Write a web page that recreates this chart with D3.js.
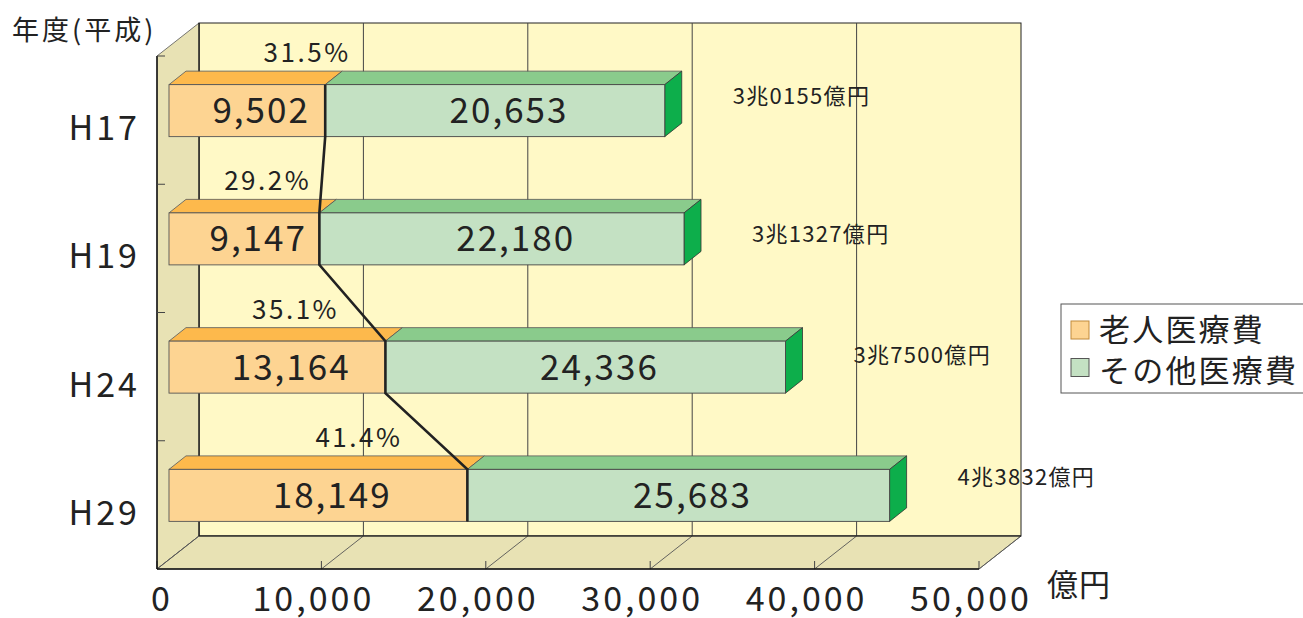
<!DOCTYPE html>
<html>
<head>
<meta charset="utf-8">
<script src="https://cdn.jsdelivr.net/npm/d3@7"></script>
<style>
  body { margin: 0; background: #fff; }
  svg { display: block; font-family: "Noto Sans CJK JP", "Noto Sans", sans-serif; }
</style>
</head>
<body>
<svg id="chart"></svg>
<script>
const categories = ['H17', 'H19', 'H24', 'H29'];
const elderlyCost = [9502, 9147, 13164, 18149];
const otherCost = [20653, 22180, 24336, 25683];
const xTicks = [0, 10000, 20000, 30000, 40000, 50000];
const seriesNames = ['老人医療費', 'その他医療費'];

// layout only: where the share labels sit (along x, in 億円) and nudge of total labels
const shareLabelAt = [8400, 6000, 7700, 11550];
const totalLabelDy = [-15, -5, -12, -18];

const width = 1303, height = 618;
const wall = {dx: 42, dy: -33};      // depth of the box
const front = {dx: 12, dy: -9.5};    // bar front face inside the box
const barDepth = {dx: 17, dy: -13.5};
const barH = 52;

const colors = {
  orangeFront: '#FDD492', orangeTop: '#FDB94C',
  greenFront: '#C4E1C3', greenTop: '#8ACB8C', greenEnd: '#0DAE4B',
  backWall: '#FFF9C6', sideWall: '#E8E2B4'
};

const svg = d3.select('#chart').attr('width', width).attr('height', height);

const x = d3.scaleLinear().domain([0, 50000]).range([157, 979]);
const y = d3.scaleBand().domain(categories).range([56, 569]);

const xl = x(0), xr = x(50000), yt = y.range()[0], yb = y.range()[1];

// back wall
svg.append('rect')
  .attr('x', xl + wall.dx).attr('y', yt + wall.dy)
  .attr('width', xr - xl).attr('height', yb - yt)
  .attr('fill', colors.backWall).attr('stroke', '#222').attr('stroke-width', 1);

// left wall + floor
svg.append('polygon')
  .attr('points', [[xl, yt], [xl + wall.dx, yt + wall.dy], [xl + wall.dx, yb + wall.dy], [xl, yb]].join(' '))
  .attr('fill', colors.sideWall).attr('stroke', '#555').attr('stroke-width', 0.8);
svg.append('polygon')
  .attr('points', [[xl, yb], [xl + wall.dx, yb + wall.dy], [xr + wall.dx, yb + wall.dy], [xr, yb]].join(' '))
  .attr('fill', colors.sideWall).attr('stroke', '#555').attr('stroke-width', 0.8);

// grid on back wall and floor
svg.selectAll('.grid')
  .data(xTicks.filter(d => d > 0 && d < 50000))
  .enter().append('line')
  .attr('x1', d => x(d) + wall.dx).attr('x2', d => x(d) + wall.dx)
  .attr('y1', yt + wall.dy).attr('y2', yb + wall.dy)
  .attr('stroke', '#444').attr('stroke-width', 1);

svg.selectAll('.floorline')
  .data(xTicks)
  .enter().append('line')
  .attr('x1', d => x(d)).attr('y1', yb)
  .attr('x2', d => x(d) + wall.dx).attr('y2', yb + wall.dy)
  .attr('stroke', '#555').attr('stroke-width', 0.9);

svg.selectAll('.xtick')
  .data(xTicks)
  .enter().append('line')
  .attr('x1', d => x(d)).attr('x2', d => x(d))
  .attr('y1', yb).attr('y2', yb - 8)
  .attr('stroke', '#444').attr('stroke-width', 1);

// box edges
svg.append('line').attr('x1', xl + wall.dx).attr('x2', xr + wall.dx)
  .attr('y1', yb + wall.dy).attr('y2', yb + wall.dy).attr('stroke', '#111').attr('stroke-width', 1.2);
svg.append('line').attr('x1', xl + wall.dx).attr('x2', xl + wall.dx)
  .attr('y1', yt + wall.dy).attr('y2', yb + wall.dy).attr('stroke', '#111').attr('stroke-width', 1.2);
svg.append('line').attr('x1', xl).attr('x2', xl)
  .attr('y1', yt).attr('y2', yb).attr('stroke', '#111').attr('stroke-width', 1.5);
svg.append('line').attr('x1', xl).attr('x2', xr)
  .attr('y1', yb).attr('y2', yb).attr('stroke', '#111').attr('stroke-width', 1.5);

// category ticks on left edge
svg.selectAll('.ytick')
  .data(categories)
  .enter().append('line')
  .attr('x1', xl).attr('x2', xl + 8)
  .attr('y1', d => y(d)).attr('y2', d => y(d))
  .attr('stroke', '#444').attr('stroke-width', 1);

// bars
const rows = categories.map((c, i) => {
  const cy = y(c) + y.bandwidth() / 2 + front.dy;
  return {
    cat: c, i: i, e: elderlyCost[i], o: otherCost[i],
    total: elderlyCost[i] + otherCost[i],
    top: cy - barH / 2, bot: cy + barH / 2, cy: cy,
    x0: x(0) + front.dx,
    x1: x(elderlyCost[i]) + front.dx,
    x2: x(elderlyCost[i] + otherCost[i]) + front.dx
  };
});

const faceTop = (a, b, t) => [[a, t], [a + barDepth.dx, t + barDepth.dy], [b + barDepth.dx, t + barDepth.dy], [b, t]].join(' ');

const bars = svg.selectAll('.bar').data(rows).enter().append('g');

bars.append('polygon')
  .attr('points', d => faceTop(d.x0, d.x1, d.top))
  .attr('fill', colors.orangeTop).attr('stroke', '#555').attr('stroke-width', 0.8);
bars.append('polygon')
  .attr('points', d => faceTop(d.x1, d.x2, d.top))
  .attr('fill', colors.greenTop).attr('stroke', '#555').attr('stroke-width', 0.8);
bars.append('polygon')
  .attr('points', d => [[d.x2, d.top], [d.x2 + barDepth.dx, d.top + barDepth.dy],
    [d.x2 + barDepth.dx, d.bot + barDepth.dy], [d.x2, d.bot]].join(' '))
  .attr('fill', colors.greenEnd).attr('stroke', '#333').attr('stroke-width', 0.8);
bars.append('rect')
  .attr('x', d => d.x0).attr('y', d => d.top)
  .attr('width', d => d.x1 - d.x0).attr('height', barH)
  .attr('fill', colors.orangeFront).attr('stroke', '#555').attr('stroke-width', 0.9);
bars.append('rect')
  .attr('x', d => d.x1).attr('y', d => d.top)
  .attr('width', d => d.x2 - d.x1).attr('height', barH)
  .attr('fill', colors.greenFront).attr('stroke', '#444').attr('stroke-width', 0.9);

// connecting line along the elderly share
const pts = [];
rows.forEach(d => { pts.push([d.x1, d.top]); pts.push([d.x1, d.bot]); });
svg.append('path')
  .attr('d', d3.line()(pts))
  .attr('fill', 'none').attr('stroke', '#222').attr('stroke-width', 2.6);

// value labels inside bars
const fmt = d3.format(',');
bars.append('text')
  .attr('x', d => (d.x0 + d.x1) / 2 + 14).attr('y', d => d.cy + 12.5)
  .attr('text-anchor', 'middle').attr('font-size', 35).attr('letter-spacing', 2)
  .attr('fill', '#222').text(d => fmt(d.e));
bars.append('text')
  .attr('x', d => (d.x1 + d.x2) / 2 + 14).attr('y', d => d.cy + 12.5)
  .attr('text-anchor', 'middle').attr('font-size', 35).attr('letter-spacing', 2)
  .attr('fill', '#222').text(d => fmt(d.o));

// share labels
bars.append('text')
  .attr('x', d => x(shareLabelAt[d.i]) + front.dx).attr('y', d => d.top - 32 + 9.5)
  .attr('text-anchor', 'middle').attr('font-size', 26).attr('letter-spacing', 2.5)
  .attr('fill', '#222').text(d => (d.e / d.total * 100).toFixed(1) + '%');

// total labels
bars.append('text')
  .attr('x', d => d.x2 + 68).attr('y', d => d.cy + totalLabelDy[d.i] + 8)
  .attr('font-size', 22).attr('letter-spacing', 1.3)
  .attr('fill', '#222')
  .text(d => Math.floor(d.total / 10000) + '兆' + String(d.total % 10000).padStart(4, '0') + '億円');

// category labels
svg.selectAll('.cat').data(categories).enter().append('text')
  .attr('x', 140).attr('y', d => y(d) + y.bandwidth() / 2 + 7.5 + 12.5)
  .attr('text-anchor', 'end').attr('font-size', 34).attr('letter-spacing', 3)
  .attr('fill', '#222').text(d => d);

// x tick labels
svg.selectAll('.xlabel').data(xTicks).enter().append('text')
  .attr('x', d => x(d) + (d === 0 ? 5 : -8)).attr('y', 611)
  .attr('text-anchor', 'middle').attr('font-size', 34).attr('letter-spacing', 3)
  .attr('fill', '#222').text(d => fmt(d));

svg.append('text').attr('x', 1047).attr('y', 596)
  .attr('font-size', 31).attr('letter-spacing', 1).attr('fill', '#222').text('億円');

svg.append('text').attr('x', 12).attr('y', 40)
  .attr('font-size', 27).attr('letter-spacing', 3)
  .attr('fill', '#222').text('年度(平成)');

// legend
const legend = svg.append('g');
legend.append('rect')
  .attr('x', 1061).attr('y', 304).attr('width', 260).attr('height', 89)
  .attr('fill', '#fff').attr('stroke', '#555').attr('stroke-width', 1);
const legendFill = [colors.orangeFront, colors.greenFront];
const legendStroke = ['#C08A3A', '#555'];
seriesNames.forEach((name, i) => {
  legend.append('rect')
    .attr('x', 1071).attr('y', 321 + i * 37.5).attr('width', 18).attr('height', 18)
    .attr('fill', legendFill[i]).attr('stroke', legendStroke[i]).attr('stroke-width', 1);
  legend.append('text')
    .attr('x', 1099).attr('y', 341 + i * 41)
    .attr('font-size', 31).attr('letter-spacing', 2.2).attr('fill', '#222')
    .text(name);
});
</script>
</body>
</html>
